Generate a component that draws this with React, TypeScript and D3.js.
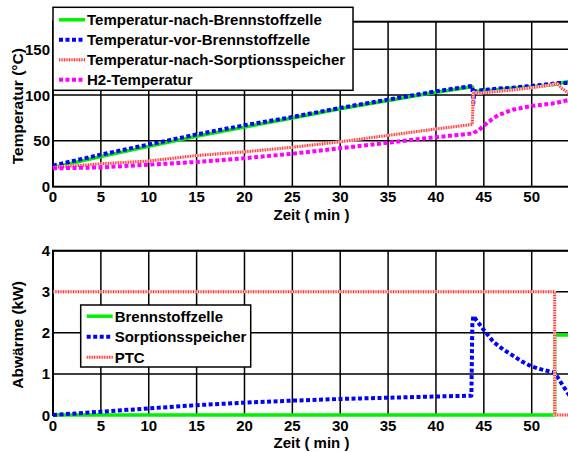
import { useRef, useEffect } from 'react';
import * as d3 from 'd3';

// Oberes Diagramm: Temperaturen über Zeit
const tempTime = [0, 5, 10, 15, 20, 25, 30, 35, 40, 43.8, 43.9, 44.0, 44.5, 45.5, 46.5, 48, 50, 52, 52.6, 53.2, 54];
const tempNachBZ = [21, 33, 44, 55, 65, 75, 85, 94, 103, 109, 105, 104, 104, 105, 106, 107.5, 109, 111, 112, 113.5, 115];
const tempVorBZ = [23, 35, 46, 57, 67, 76, 86, 95, 104, 110, 91, 104, 105, 106, 107, 108, 110, 112, 113, 113, 113];
const tempNachSorption = [21, 25, 28, 34, 38, 43, 49, 56, 63, 68, 103, 103, 102, 103, 104, 105.5, 108, 111, 113, 107, 101];
const tempH2 = [20, 21, 24, 27, 31, 36, 42, 48, 54, 58, 58, 59, 62, 71, 78, 84, 88, 90.5, 91.5, 93, 95];

// Unteres Diagramm: Abwärme
const heatTime = [0, 5, 10, 15, 20, 25, 30, 35, 40, 43.7, 43.8, 43.9, 45, 46, 47, 48, 49, 50, 51, 52.4, 53, 54];
const heatSorption = [0, 0.08, 0.16, 0.24, 0.3, 0.35, 0.39, 0.42, 0.45, 0.47, 2.2, 2.41, 2.07, 1.78, 1.6, 1.45, 1.3, 1.18, 1.11, 1.03, 0.81, 0.45];
const stepTime = [0, 52.4, 52.4, 54];
const heatBZ = [0, 0, 1.95, 1.95];
const heatPTC = [3, 3, 0, 0];

const xTicks = [0, 5, 10, 15, 20, 25, 30, 35, 40, 45, 50];
const tempTicks = [0, 50, 100, 150];
const heatTicks = [0, 1, 2, 3, 4];

const font = "'Liberation Sans', Arial, Helvetica, sans-serif";

// under: helle Unterlage (für die rot gepunktete Linie)
const styles = {
  green: { color: '#00f000', width: 3.5, dash: null, under: null },
  blue: { color: '#0000ff', width: 4, dash: '4,2.5', under: null },
  red: { color: '#ff3030', width: 3, dash: '1,1.5', under: '#ffc4c4' },
  magenta: { color: '#ff00ff', width: 4, dash: '4,2.5', under: null },
};

const W = 568;
const H = 452;
const left = 53;
const right = 570;

function strokeStyled(sel, st) {
  return sel
    .attr('fill', 'none')
    .attr('stroke', st.color)
    .attr('stroke-width', st.width)
    .attr('stroke-dasharray', st.dash)
    .attr('stroke-linejoin', 'round');
}

function drawPanel(svg, opts) {
  const { top, bottom, yMax, yTicks, series, ylabel, legend } = opts;
  const x = d3.scaleLinear().domain([0, 54]).range([left, right]);
  const y = d3.scaleLinear().domain([0, yMax]).range([bottom, top]);
  const g = svg.append('g');

  g.append('rect')
    .attr('x', left).attr('y', top)
    .attr('width', right - left).attr('height', bottom - top)
    .attr('fill', '#fff');

  // Gitter
  g.selectAll('.vg').data(xTicks.slice(1)).join('line')
    .attr('x1', d => x(d)).attr('x2', d => x(d))
    .attr('y1', top).attr('y2', bottom)
    .attr('stroke', '#000').attr('stroke-width', 1.5);
  g.selectAll('.hg').data(yTicks.slice(1)).join('line')
    .attr('x1', left).attr('x2', right)
    .attr('y1', d => y(d)).attr('y2', d => y(d))
    .attr('stroke', '#000').attr('stroke-width', 1.5);

  g.append('rect')
    .attr('x', left).attr('y', top)
    .attr('width', right - left).attr('height', bottom - top)
    .attr('fill', 'none').attr('stroke', '#000').attr('stroke-width', 2);

  // Linien
  const line = d3.line().x(d => x(d[0])).y(d => y(d[1]));
  series.forEach(s => {
    const pts = s.t.map((t, i) => [t, s.v[i]]);
    if (s.style.under) {
      g.append('path').attr('d', line(pts))
        .attr('fill', 'none').attr('stroke', s.style.under)
        .attr('stroke-width', s.style.width).attr('stroke-linejoin', 'round');
    }
    strokeStyled(g.append('path').attr('d', line(pts)), s.style);
  });

  // Achsenbeschriftung
  g.selectAll('.xt').data(xTicks).join('text')
    .attr('x', d => x(d)).attr('y', bottom + 15.5)
    .attr('text-anchor', 'middle')
    .attr('font-family', font).attr('font-weight', 'bold').attr('font-size', 15)
    .text(d => d);
  g.selectAll('.yt').data(yTicks).join('text')
    .attr('x', left - 3).attr('y', d => y(d) + 5.5)
    .attr('text-anchor', 'end')
    .attr('font-family', font).attr('font-weight', 'bold').attr('font-size', 15)
    .text(d => d);

  g.append('text')
    .attr('x', (left + right) / 2).attr('y', bottom + 33)
    .attr('text-anchor', 'middle')
    .attr('font-family', font).attr('font-weight', 'bold').attr('font-size', 15)
    .text('Zeit ( min )');
  g.append('text')
    .attr('transform', `translate(23,${(top + bottom) / 2 + 2}) rotate(-90)`)
    .attr('text-anchor', 'middle')
    .attr('font-family', font).attr('font-weight', 'bold').attr('font-size', 15.5)
    .text(ylabel);

  // Legende
  const lg = g.append('g');
  lg.append('rect')
    .attr('x', legend.x).attr('y', legend.y)
    .attr('width', legend.w).attr('height', legend.h)
    .attr('fill', '#fff').attr('stroke', '#000').attr('stroke-width', 1.5);
  series.forEach((s, i) => {
    const base = legend.y + legend.first + i * legend.step;
    const ly = base - 5.5;
    if (s.style.under) {
      lg.append('line')
        .attr('x1', legend.x + 6).attr('x2', legend.x + 32)
        .attr('y1', ly).attr('y2', ly)
        .attr('stroke', s.style.under).attr('stroke-width', s.style.width);
    }
    strokeStyled(lg.append('line')
      .attr('x1', legend.x + 6).attr('x2', legend.x + 32)
      .attr('y1', ly).attr('y2', ly), s.style);
    lg.append('text')
      .attr('x', legend.x + 34).attr('y', base)
      .attr('font-family', font).attr('font-weight', 'bold').attr('font-size', 15)
      .text(s.name);
  });
}

export default function App() {
  const ref = useRef(null);

  useEffect(() => {
    if (!ref.current) return;
    const svg = d3.select(ref.current);
    svg.selectAll('*').remove();

    drawPanel(svg, {
      top: 21.7,
      bottom: 186.7,
      yMax: 180,
      yTicks: tempTicks,
      ylabel: 'Temperatur (°C)',
      series: [
        { name: 'Temperatur-nach-Brennstoffzelle', t: tempTime, v: tempNachBZ, style: styles.green },
        { name: 'Temperatur-vor-Brennstoffzelle', t: tempTime, v: tempVorBZ, style: styles.blue },
        { name: 'Temperatur-nach-Sorptionsspeicher', t: tempTime, v: tempNachSorption, style: styles.red },
        { name: 'H2-Temperatur', t: tempTime, v: tempH2, style: styles.magenta },
      ],
      legend: { x: 53, y: 7.3, w: 300, h: 83, first: 18, step: 20 },
    });

    drawPanel(svg, {
      top: 250.7,
      bottom: 415,
      yMax: 4,
      yTicks: heatTicks,
      ylabel: 'Abwärme (kW)',
      series: [
        { name: 'Brennstoffzelle', t: stepTime, v: heatBZ, style: styles.green },
        { name: 'Sorptionsspeicher', t: heatTime, v: heatSorption, style: styles.blue },
        { name: 'PTC', t: stepTime, v: heatPTC, style: styles.red },
      ],
      legend: { x: 80.7, y: 305, w: 170, h: 62, first: 16.7, step: 20.5 },
    });
  }, []);

  return (
    <div style={{ position: 'fixed', left: 0, top: 0 }}>
      <svg ref={ref} width={W} height={H} style={{ display: 'block', background: '#fff' }} />
    </div>
  );
}
